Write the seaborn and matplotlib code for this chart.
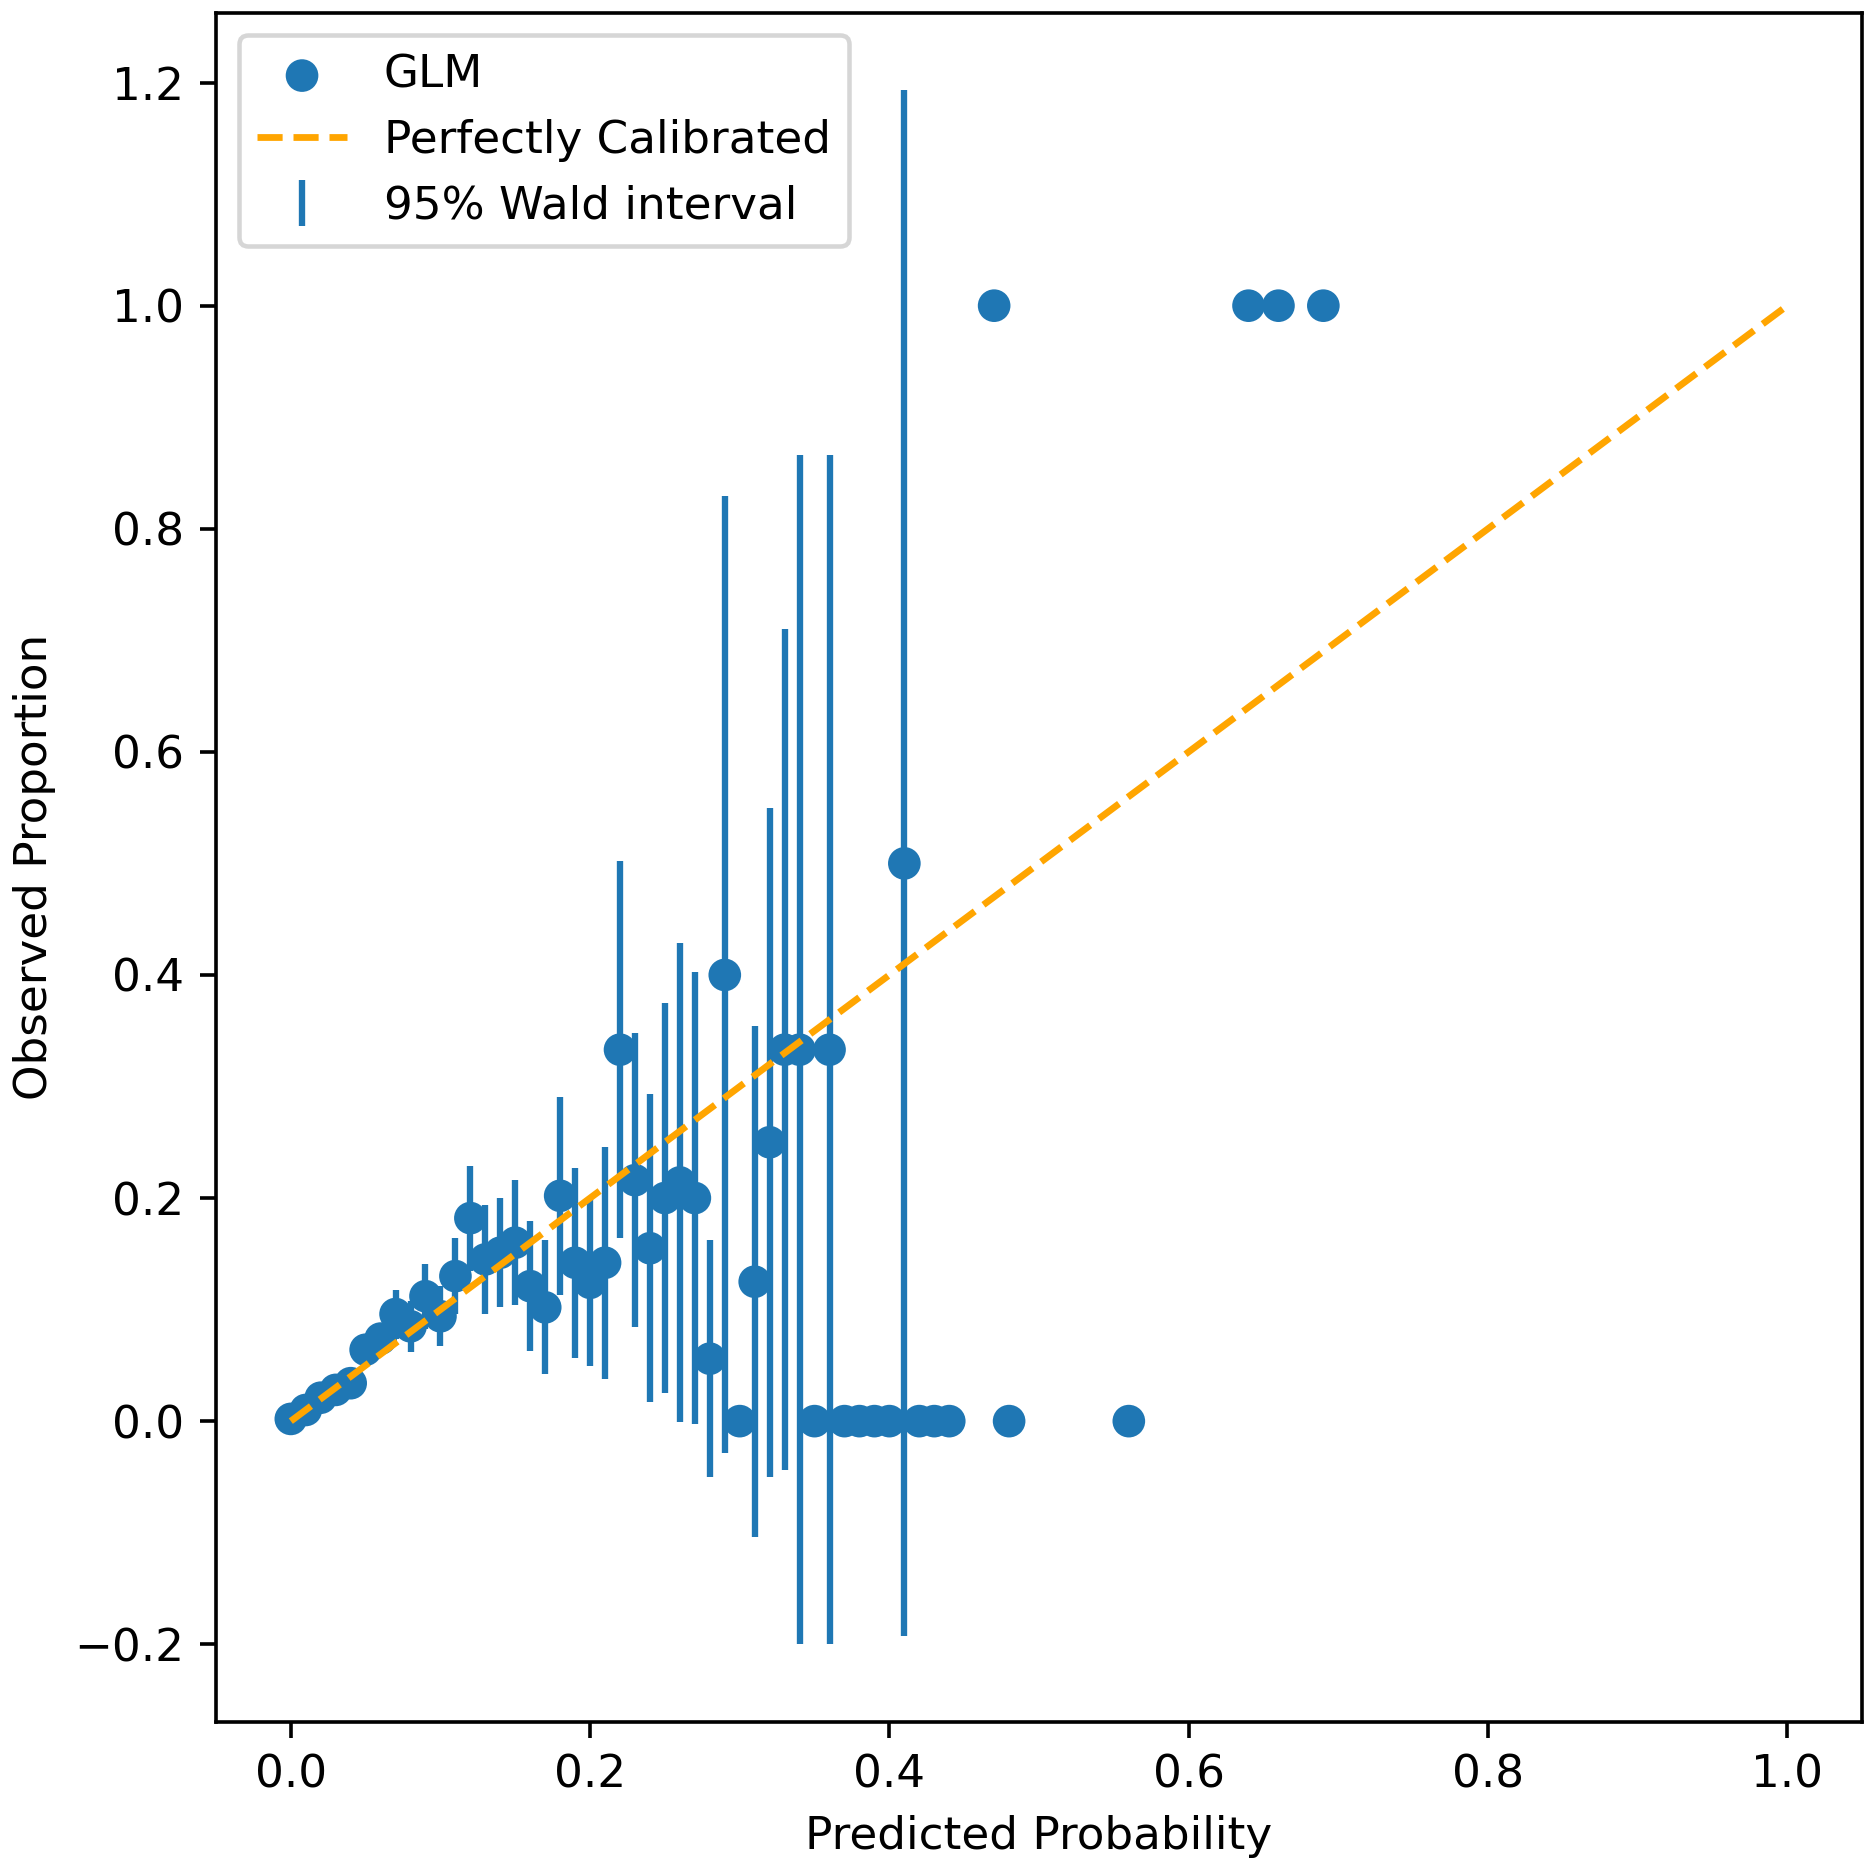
import matplotlib
matplotlib.use("Agg")
import matplotlib.pyplot as plt
import pandas as pd
import seaborn as sns

# predicted probability bins
pred_prob = [0.00, 0.01, 0.02, 0.03, 0.04, 0.05, 0.06, 0.07, 0.08, 0.09,
             0.10, 0.11, 0.12, 0.13, 0.14, 0.15, 0.16, 0.17, 0.18, 0.19,
             0.20, 0.21, 0.22, 0.23, 0.24, 0.25, 0.26, 0.27, 0.28, 0.29,
             0.30, 0.31, 0.32, 0.33, 0.34, 0.35, 0.36, 0.37, 0.38, 0.39,
             0.40, 0.41, 0.42, 0.43, 0.44, 0.47, 0.48, 0.56, 0.64, 0.66,
             0.69]

# observed proportion per bin
obs_prop = [0.002, 0.010, 0.021, 0.028, 0.034, 0.064, 0.074, 0.096, 0.085, 0.112,
            0.094, 0.130, 0.182, 0.145, 0.151, 0.160, 0.121, 0.102, 0.202, 0.142,
            0.124, 0.142, 0.333, 0.216, 0.155, 0.200, 0.214, 0.200, 0.056, 0.400,
            0.000, 0.125, 0.250, 0.333, 0.333, 0.000, 0.333, 0.000, 0.000, 0.000,
            0.000, 0.500, 0.000, 0.000, 0.000, 1.000, 0.000, 0.000, 1.000, 1.000,
            1.000]

# half width of the 95% Wald interval per bin
half_width = [0.001, 0.003, 0.005, 0.007, 0.009, 0.011, 0.012, 0.022, 0.023, 0.029,
              0.027, 0.034, 0.047, 0.049, 0.049, 0.056, 0.058, 0.060, 0.089, 0.085,
              0.075, 0.104, 0.169, 0.132, 0.138, 0.175, 0.215, 0.203, 0.106, 0.429,
              0.000, 0.229, 0.300, 0.377, 0.533, 0.000, 0.533, 0.000, 0.000, 0.000,
              0.000, 0.693, 0.000, 0.000, 0.000, 0.000, 0.000, 0.000, 0.000, 0.000,
              0.000]

ref_line = [0.0, 1.0]

df = pd.DataFrame({'pred': pred_prob, 'obs': obs_prop, 'err': half_width})

DPI = 326
fig = plt.figure(figsize=(1875 / DPI, 1869 / DPI), dpi=DPI)
ax = fig.add_axes([0.1152, 0.0787, 0.8779, 0.9145])

# pontos observados
sns.scatterplot(data=df, x='pred', y='obs', ax=ax, s=52, color='#1f77b4',
                edgecolor='none', linewidth=0, label='GLM', zorder=2)

# linha de calibração perfeita
ax.plot(ref_line, ref_line, linestyle='--', color='orange', linewidth=1.5,
        label='Perfectly Calibrated', zorder=3)

# intervalos de Wald
ax.errorbar(df['pred'], df['obs'], yerr=df['err'], fmt='none', ecolor='#1f77b4',
            elinewidth=1.4, label='95% Wald interval', zorder=2.5)

ax.set_xlabel('Predicted Probability')
ax.set_ylabel('Observed Proportion')
ax.legend(loc='upper left')

fig.savefig('out.png', dpi=DPI)
